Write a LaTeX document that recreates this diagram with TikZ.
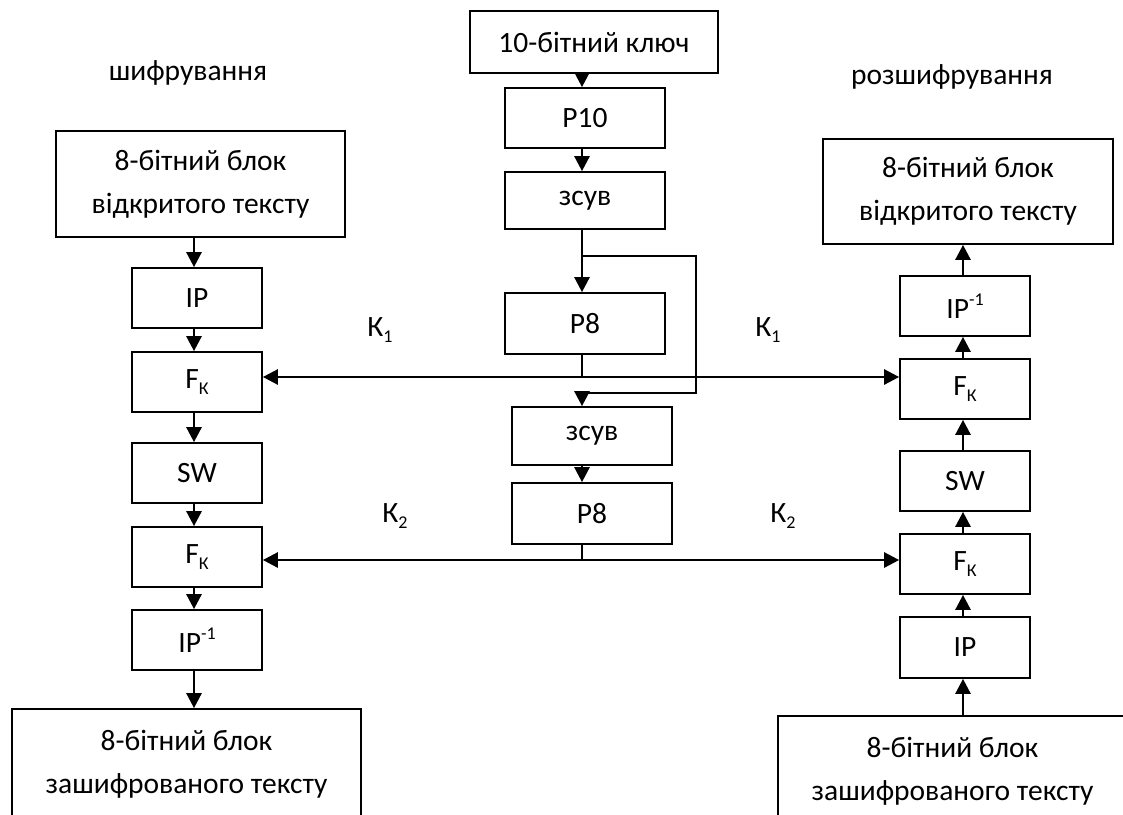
\documentclass[tikz,border=0pt]{standalone}
\usepackage{fontspec}
\setmainfont{Carlito}
\usetikzlibrary{arrows.meta}
\tikzset{
  blk/.style={draw, line width=1.7pt, inner sep=0pt, align=center,
    font=\fontsize{29.5}{43}\selectfont},
  lbl/.style={inner sep=0pt, font=\fontsize{29.5}{43}\selectfont},
  arr/.style={line width=2.6pt, -{Triangle[length=15pt,width=15pt]}},
  barr/.style={line width=2.6pt, {Triangle[length=15pt,width=15pt]}-{Triangle[length=15pt,width=15pt]}},
  thin line/.style={line width=1.8pt},
  thick line/.style={line width=2.6pt}
}
\newcommand{\subK}{\raisebox{-0.22em}{\fontsize{18}{18}\selectfont К}}
\newcommand{\subn}[1]{\raisebox{-0.22em}{\fontsize{18}{18}\selectfont #1}}
\newcommand{\supm}{\raisebox{0.45em}{\fontsize{18}{18}\selectfont -1}}
\begin{document}
\begin{tikzpicture}[x=1pt,y=-1pt]
\useasboundingbox (0,0) rectangle (1123,814);
\clip (0,0) rectangle (1123,814);
\fill[white] (0,0) rectangle (1123,814);

% guide coordinates for vertical connector lines
\coordinate (lx) at (194,0);
\coordinate (cx) at (582,0);
\coordinate (rx) at (963,0);
\coordinate (bx) at (696,0);

% titles
\node[lbl] (tenc) at (188,73) {шифрування};
\node[lbl] (tdec) at (952,77) {розшифрування};

% centre column
\node[blk, minimum width=248pt, minimum height=62pt] (key) at (594,42) {10-бітний ключ};
\node[blk, minimum width=160pt, minimum height=60pt] (p10) at (585,118) {P10};
\node[blk, minimum width=160pt, minimum height=57pt] (sh1) at (585,200.5) {зсув};
\node[blk, minimum width=160pt, minimum height=61pt] (p8a) at (585,323.5) {P8};
\node[blk, minimum width=160pt, minimum height=58pt] (sh2) at (592,436) {зсув};
\node[blk, minimum width=160pt, minimum height=61pt] (p8b) at (592,513.5) {P8};

% left column (encryption)
\node[blk, minimum width=289pt, minimum height=106pt] (ltop) at (200.5,184) {8-бітний блок\\відкритого тексту};
\node[blk, minimum width=130pt, minimum height=60pt] (lip) at (197,298) {IP};
\node[blk, minimum width=130pt, minimum height=60pt] (lf1) at (197,382) {F\subK};
\node[blk, minimum width=130pt, minimum height=60pt] (lsw) at (197,473) {SW};
\node[blk, minimum width=130pt, minimum height=60pt] (lf2) at (197,557) {F\subK};
\node[blk, minimum width=130pt, minimum height=60pt] (lipi) at (197,640) {IP\supm};
\node[blk, minimum width=349pt, minimum height=110pt] (lbot) at (186.5,764) {8-бітний блок\\зашифрованого тексту};

% right column (decryption)
\node[blk, minimum width=290pt, minimum height=105pt] (rtop) at (968,191.5) {8-бітний блок\\відкритого тексту};
\node[blk, minimum width=130pt, minimum height=60pt] (ripi) at (965,306) {IP\supm};
\node[blk, minimum width=130pt, minimum height=60pt] (rf1) at (965,389) {F\subK};
\node[blk, minimum width=130pt, minimum height=60pt] (rsw) at (965,481) {SW};
\node[blk, minimum width=130pt, minimum height=60pt] (rf2) at (965,564) {F\subK};
\node[blk, minimum width=130pt, minimum height=61pt] (rip) at (965,647.5) {IP};
\node[blk, minimum width=349pt, minimum height=110pt] (rbot) at (952.5,771) {8-бітний блок\\зашифрованого тексту};

% key labels
\node[lbl] (k1l) at (380,330) {К\subn{1}};
\node[lbl] (k1r) at (768,330) {К\subn{1}};
\node[lbl] (k2l) at (395,516) {К\subn{2}};
\node[lbl] (k2r) at (783,516) {К\subn{2}};

% key schedule connectors
\draw[arr] (key.south -| cx) -- (p10.north -| cx);
\draw[arr] (p10.south -| cx) -- (sh1.north -| cx);
\draw[arr] (sh1.south -| cx) -- (p8a.north -| cx);
\coordinate (br) at (582,256);
\draw[thin line] (br) -| (bx |- p8a.south) -- ++(0,38) coordinate (bturn) -- (bturn -| cx);
\draw[arr] (bturn -| cx) -- (sh2.north -| cx);
\draw[arr] (sh2.south -| cx) -- (p8b.north -| cx);

\coordinate (k1y) at (0,377);
\coordinate (k2y) at (0,560);
\draw[thin line] (p8a.south -| cx) -- (k1y -| cx);
\draw[thin line] (p8b.south -| cx) -- (k2y -| cx);
\draw[barr] (lf1.east |- k1y) -- (rf1.west |- k1y);
\draw[barr] (lf2.east |- k2y) -- (rf2.west |- k2y);

% left column connectors
\draw[arr] (ltop.south -| lx) -- (lip.north -| lx);
\draw[arr] (lip.south -| lx) -- (lf1.north -| lx);
\draw[arr] (lf1.south -| lx) -- (lsw.north -| lx);
\draw[arr] (lsw.south -| lx) -- (lf2.north -| lx);
\draw[arr] (lf2.south -| lx) -- (lipi.north -| lx);
\draw[arr] (lipi.south -| lx) -- (lbot.north -| lx);

% right column connectors
\draw[arr] (rbot.north -| rx) -- (rip.south -| rx);
\draw[arr] (rip.north -| rx) -- (rf2.south -| rx);
\draw[arr] (rf2.north -| rx) -- (rsw.south -| rx);
\draw[arr] (rsw.north -| rx) -- (rf1.south -| rx);
\draw[arr] (rf1.north -| rx) -- (ripi.south -| rx);
\draw[arr] (ripi.north -| rx) -- (rtop.south -| rx);
\end{tikzpicture}
\end{document}
